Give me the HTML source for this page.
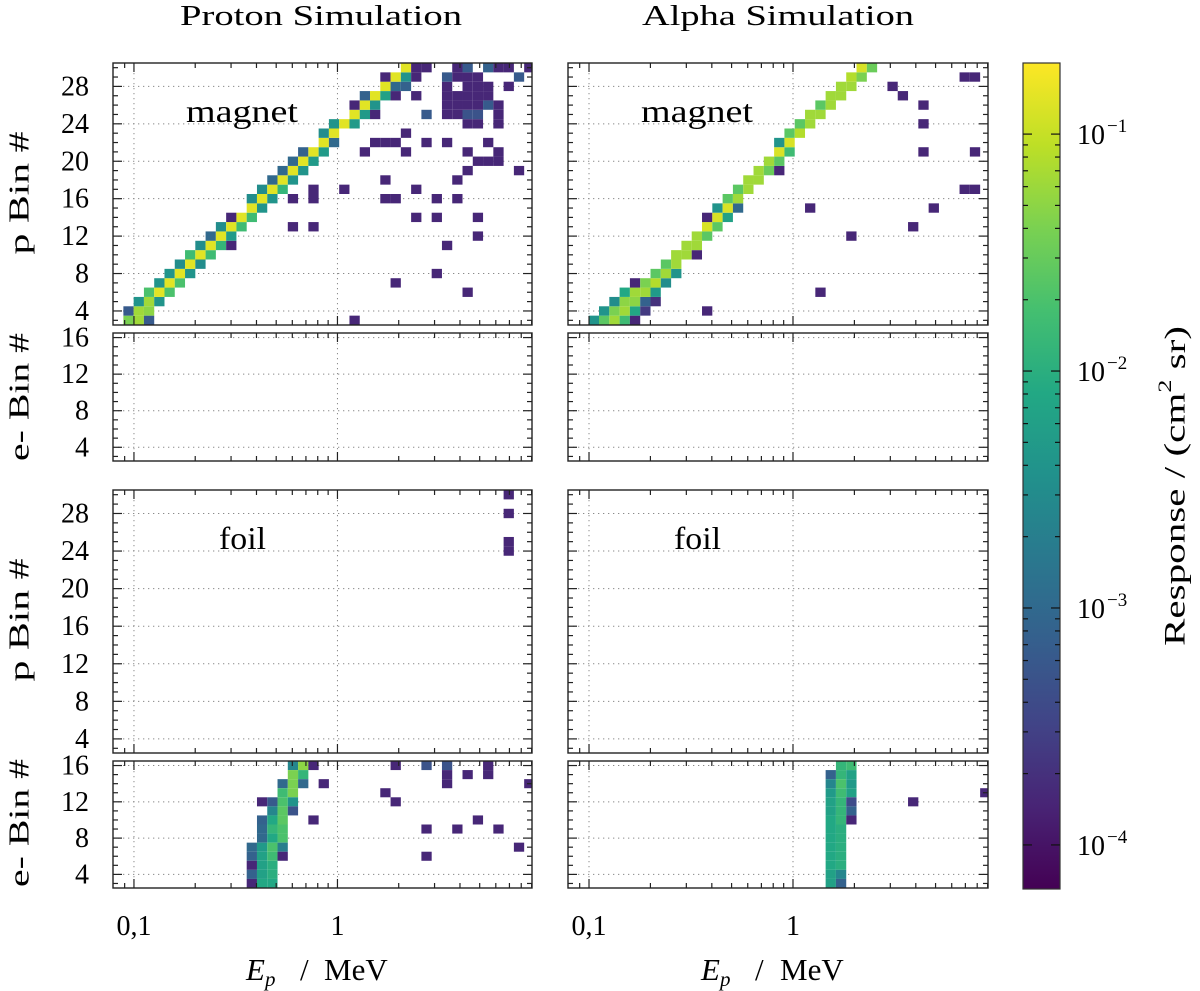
<!DOCTYPE html>
<html><head><meta charset="utf-8"><style>
html,body{margin:0;padding:0;background:#fff;}
svg{display:block;font-family:"Liberation Serif",serif;}
</style></head>
<body>
<svg id="fig" width="1200" height="991" viewBox="0 0 1200 991" xmlns="http://www.w3.org/2000/svg">
<defs>
<linearGradient id="viridis" x1="0" y1="1" x2="0" y2="0">
<stop offset="0" stop-color="#440154"/><stop offset="0.1" stop-color="#482475"/><stop offset="0.2" stop-color="#414487"/><stop offset="0.3" stop-color="#355f8d"/><stop offset="0.4" stop-color="#2a788e"/><stop offset="0.5" stop-color="#21918c"/><stop offset="0.6" stop-color="#22a884"/><stop offset="0.7" stop-color="#44bf70"/><stop offset="0.8" stop-color="#7ad151"/><stop offset="0.9" stop-color="#bddf26"/><stop offset="1" stop-color="#fde725"/>
</linearGradient>
</defs>
<text x="321" y="25" font-size="28" text-anchor="middle" textLength="282" lengthAdjust="spacingAndGlyphs">Proton Simulation</text>
<text x="778" y="25" font-size="28" text-anchor="middle" textLength="272" lengthAdjust="spacingAndGlyphs">Alpha Simulation</text>
<text transform="translate(20,193) rotate(-90)" font-size="28" text-anchor="middle" dominant-baseline="central" textLength="123" lengthAdjust="spacingAndGlyphs">p Bin #</text>
<text transform="translate(20,397) rotate(-90)" font-size="28" text-anchor="middle" dominant-baseline="central" textLength="128" lengthAdjust="spacingAndGlyphs">e- Bin #</text>
<text transform="translate(20,620) rotate(-90)" font-size="28" text-anchor="middle" dominant-baseline="central" textLength="123" lengthAdjust="spacingAndGlyphs">p Bin #</text>
<text transform="translate(20,823) rotate(-90)" font-size="28" text-anchor="middle" dominant-baseline="central" textLength="128" lengthAdjust="spacingAndGlyphs">e- Bin #</text>
<text y="980" font-size="31"><tspan x="246" font-style="italic">E</tspan><tspan font-style="italic" font-size="21" dy="6">p</tspan><tspan x="300" dy="-6">/</tspan><tspan x="324">MeV</tspan></text>
<text y="980" font-size="31"><tspan x="701" font-style="italic">E</tspan><tspan font-style="italic" font-size="21" dy="6">p</tspan><tspan x="755" dy="-6">/</tspan><tspan x="780">MeV</tspan></text>
<text transform="translate(1175,486) rotate(-90)" font-size="30" text-anchor="middle" dominant-baseline="central" textLength="320" lengthAdjust="spacingAndGlyphs">Response / (cm<tspan font-size="19" dy="-10">2</tspan><tspan dy="10"> sr)</tspan></text>
<g id="layer"></g>
</svg>
<script>
// ---- data: [energyBin, detectorBin, log10(response)] ----
const protonMagnetP = [
[0,3,-1.4],[1,3,-1.2],[2,3,-3.2],[22,3,-3.8],
[0,4,-3.2],[1,4,-1.2],[2,4,-1.3],
[1,5,-2.4],[2,5,-1.2],[3,5,-2.4],
[2,6,-1.7],[3,6,-0.85],[4,6,-1.7],[33,6,-3.8],
[3,7,-2.4],[4,7,-0.85],[5,7,-1.7],[26,7,-3.8],
[4,8,-2.4],[5,8,-0.85],[6,8,-2.4],[30,8,-3.8],
[5,9,-2.5],[6,9,-0.85],[7,9,-2.5],
[6,10,-1.8],[7,10,-0.85],[8,10,-1.8],
[7,11,-2.5],[8,11,-0.85],[9,11,-1.9],[10,11,-3.8],[31,11,-3.8],
[8,12,-3.0],[9,12,-0.85],[10,12,-2.3],[34,12,-3.8],
[9,13,-2.5],[10,13,-0.85],[11,13,-1.8],[16,13,-3.8],[18,13,-3.8],
[10,14,-3.8],[11,14,-0.85],[12,14,-1.8],[28,14,-3.8],[30,14,-3.8],[34,14,-3.8],
[12,15,-0.85],[13,15,-2.4],
[12,16,-2.5],[13,16,-0.85],[14,16,-2.4],[16,16,-3.8],[18,16,-3.8],[25,16,-3.8],[26,16,-3.8],[30,16,-3.8],[32,16,-3.8],
[13,17,-2.5],[14,17,-0.85],[15,17,-1.9],[18,17,-3.8],[21,17,-3.8],[28,17,-3.8],
[14,18,-3.0],[15,18,-0.85],[16,18,-2.4],[25,18,-3.8],[32,18,-3.8],
[15,19,-3.0],[16,19,-0.85],[17,19,-2.4],[33,19,-3.8],[38,19,-3.8],
[16,20,-3.0],[17,20,-0.85],[18,20,-2.3],[34,20,-3.8],[35,20,-3.8],[36,20,-3.8],
[17,21,-3.1],[18,21,-0.85],[19,21,-2.3],[23,21,-3.8],[27,21,-3.8],[33,21,-3.8],[36,21,-3.8],
[19,22,-0.85],[20,22,-3.0],[24,22,-3.8],[25,22,-3.8],[26,22,-3.8],[29,22,-3.8],[31,22,-3.8],[35,22,-3.8],
[19,23,-2.5],[20,23,-0.85],[27,23,-3.8],
[20,24,-2.4],[21,24,-0.85],[22,24,-2.3],[33,24,-3.8],[34,24,-3.8],[36,24,-3.8],
[22,25,-0.85],[23,25,-2.3],[24,25,-3.8],[29,25,-3.2],[31,25,-3.8],[32,25,-3.8],[33,25,-3.3],[34,25,-3.3],[36,25,-3.8],
[22,26,-3.8],[23,26,-0.85],[24,26,-2.4],[31,26,-3.8],[32,26,-3.8],[33,26,-3.8],[34,26,-3.8],[35,26,-3.2],[36,26,-3.8],
[23,27,-3.1],[24,27,-0.85],[25,27,-2.2],[26,27,-3.8],[28,27,-3.8],[31,27,-3.8],[32,27,-3.8],[33,27,-3.8],[34,27,-3.8],[35,27,-3.8],
[25,28,-0.85],[26,28,-3.0],[27,28,-3.1],[31,28,-3.8],[33,28,-3.8],[34,28,-3.8],[35,28,-3.8],[37,28,-3.8],
[25,29,-3.8],[26,29,-0.85],[27,29,-2.4],[28,29,-3.8],[31,29,-3.2],[32,29,-3.8],[33,29,-3.8],[34,29,-3.8],[38,29,-3.2],
[27,30,-0.85],[28,30,-3.8],[29,30,-3.8],[32,30,-3.8],[33,30,-3.2],[35,30,-3.1],[36,30,-3.8],[37,30,-3.8],[39,30,-3.8]
];
const protonMagnetE = [];
const protonFoilP = [[37,30,-3.8],[37,28,-3.8],[37,25,-3.8],[37,24,-3.8]];
const protonFoilE = [
[16,16,-2.6],[17,16,-1.3],[18,16,-3.8],[26,16,-3.8],[29,16,-3.3],[31,16,-3.3],[35,16,-3.8],
[16,15,-1.4],[17,15,-1.9],[31,15,-3.8],[33,15,-3.8],[35,15,-3.8],
[15,14,-3.0],[16,14,-1.4],[17,14,-3.0],[19,14,-3.8],[31,14,-3.8],[39,14,-3.8],
[15,13,-1.8],[16,13,-1.4],[25,13,-3.8],
[13,12,-3.8],[14,12,-3.2],[15,12,-1.7],[16,12,-2.4],[26,12,-3.8],
[14,11,-2.6],[15,11,-1.6],[16,11,-3.3],
[13,10,-3.1],[14,10,-2.1],[15,10,-1.6],[18,10,-3.8],[34,10,-3.8],
[13,9,-3.0],[14,9,-1.9],[15,9,-1.7],[29,9,-3.8],[32,9,-3.8],[36,9,-3.8],
[13,8,-3.0],[14,8,-2.1],[15,8,-1.7],
[12,7,-3.0],[13,7,-2.3],[14,7,-1.7],[15,7,-2.7],[38,7,-3.8],
[12,6,-3.1],[13,6,-2.2],[14,6,-1.8],[15,6,-3.8],[29,6,-3.8],
[12,5,-3.8],[13,5,-2.2],[14,5,-2.0],
[12,4,-3.1],[13,4,-2.2],[14,4,-2.0],
[12,3,-3.8],[13,3,-2.1],[14,3,-2.1]
];
const alphaMagnetP = [
[1,3,-2.4],[2,3,-1.6],[3,3,-1.2],[4,3,-1.8],[5,3,-3.8],
[2,4,-2.4],[3,4,-1.4],[4,4,-1.2],[5,4,-2.1],[6,4,-3.6],[12,4,-3.8],
[3,5,-2.5],[4,5,-1.3],[5,5,-1.3],[6,5,-3.1],[7,5,-3.7],
[4,6,-2.1],[5,6,-1.2],[6,6,-1.2],[7,6,-2.3],[23,6,-3.8],
[5,7,-3.8],[6,7,-1.4],[7,7,-1.1],[8,7,-2.5],
[7,8,-1.6],[8,8,-1.2],[9,8,-2.4],
[8,9,-1.6],[9,9,-1.2],
[9,10,-1.2],[10,10,-1.2],[11,10,-3.8],
[10,11,-1.2],[11,11,-1.2],
[11,12,-1.2],[12,12,-1.6],[26,12,-3.8],
[12,13,-0.9],[13,13,-1.6],[32,13,-3.8],
[12,14,-3.8],[13,14,-0.9],[14,14,-2.2],
[13,15,-2.4],[14,15,-0.9],[15,15,-3.0],[22,15,-3.8],[34,15,-3.8],
[14,16,-1.6],[15,16,-1.2],
[15,17,-1.6],[16,17,-1.2],[37,17,-3.8],[38,17,-3.8],
[16,18,-1.2],[17,18,-1.2],
[17,19,-1.2],[18,19,-1.5],[19,19,-3.8],
[18,20,-1.2],[19,20,-1.6],
[19,21,-0.9],[20,21,-1.8],[33,21,-3.8],[38,21,-3.8],
[19,22,-2.4],[20,22,-0.9],
[20,23,-1.6],[21,23,-1.1],
[21,24,-1.6],[22,24,-1.2],[33,24,-3.8],
[22,25,-1.2],[23,25,-1.2],
[23,26,-1.6],[24,26,-1.2],[33,26,-3.8],
[24,27,-1.2],[25,27,-1.2],[31,27,-3.8],
[25,28,-1.2],[26,28,-1.2],[30,28,-3.8],
[26,29,-1.1],[27,29,-1.4],[37,29,-3.8],[38,29,-3.8],
[27,30,-0.9],[28,30,-1.5]
];
const alphaMagnetE = [];
const alphaFoilP = [];
const alphaFoilE = [
[24,15,-3.1],[24,14,-2.6],[24,13,-2.3],[24,12,-2.2],[24,11,-2.2],[24,10,-2.1],[24,9,-2.1],[24,8,-2.1],[24,7,-2.1],[24,6,-2.1],[24,5,-2.1],[24,4,-2.2],[24,3,-2.2],
[25,16,-1.9],[25,15,-1.9],[25,14,-1.7],[25,13,-1.8],[25,12,-1.9],[25,11,-1.9],[25,10,-1.9],[25,9,-2.0],[25,8,-2.0],[25,7,-2.0],[25,6,-2.0],[25,5,-2.0],[25,4,-2.6],[25,3,-3.1],
[26,16,-1.8],[26,15,-2.2],[26,14,-2.3],[26,13,-2.2],[26,12,-3.4],[26,11,-3.1],[26,10,-3.8],
[32,12,-3.8],[39,13,-3.8]
];
const xMajorTicks = [0.1, 1];
const xMinorTicks = [0.09,0.2,0.3,0.4,0.5,0.6,0.7,0.8,0.9,2,3,4,5,6,7,8,9];
const xTickLabels = ["0,1", "1"];
const cbarDecades = [-1, -2, -3, -4];
const cbarLabels = ["\u22121", "\u22122", "\u22123", "\u22124"];

// ---- binning / scales ----
const EBIN_LOG0 = -1.052, EBIN_STEP = 0.0505;
const X_LOG_MIN = -1.103, X_LOG_MAX = 0.956;
const C_MIN = -4.186, C_MAX = -0.70;
const VIR = [[68,1,84],[72,36,117],[65,68,135],[53,95,141],[42,120,142],[33,145,140],[34,168,132],[68,191,112],[122,209,81],[189,223,38],[253,231,37]];
function viridis(v){
  let t = (v - C_MIN) / (C_MAX - C_MIN);
  t = Math.max(0, Math.min(1, t)) * 10;
  const i = Math.min(9, Math.floor(t)), f = t - i;
  const a = VIR[i], b = VIR[i+1];
  return 'rgb(' + [0,1,2].map(j => Math.round(a[j] + (b[j]-a[j])*f)).join(',') + ')';
}
const NS = 'http://www.w3.org/2000/svg';
const layer = document.getElementById('layer');
function mk(tag, attrs, parent){
  const e = document.createElementNS(NS, tag);
  for (const k in attrs) e.setAttribute(k, attrs[k]);
  (parent || layer).appendChild(e);
  return e;
}
const panels = [
  {name:'proton-magnet-p', data:protonMagnetP, x0:113, x1:532, y0:63, y1:325, ymin:2.5, ymax:30.5, labels:true},
  {name:'proton-magnet-e', data:protonMagnetE, x0:113, x1:532, y0:333, y1:461, ymin:2.5, ymax:16.5, labels:true},
  {name:'proton-foil-p', data:protonFoilP, x0:113, x1:532, y0:490, y1:753, ymin:2.5, ymax:30.5, labels:true},
  {name:'proton-foil-e', data:protonFoilE, x0:113, x1:532, y0:761, y1:888, ymin:2.5, ymax:16.5, labels:true, xlabels:true},
  {name:'alpha-magnet-p', data:alphaMagnetP, x0:568, x1:988, y0:63, y1:325, ymin:2.5, ymax:30.5},
  {name:'alpha-magnet-e', data:alphaMagnetE, x0:568, x1:988, y0:333, y1:461, ymin:2.5, ymax:16.5},
  {name:'alpha-foil-p', data:alphaFoilP, x0:568, x1:988, y0:490, y1:753, ymin:2.5, ymax:30.5},
  {name:'alpha-foil-e', data:alphaFoilE, x0:568, x1:988, y0:761, y1:888, ymin:2.5, ymax:16.5, xlabels:true}
];
panels.forEach(p => {
  const xs = lg => p.x0 + (lg - X_LOG_MIN) / (X_LOG_MAX - X_LOG_MIN) * (p.x1 - p.x0);
  const ys = v => p.y1 - (v - p.ymin) / (p.ymax - p.ymin) * (p.y1 - p.y0);
  const g = mk('g', {});
  
  
  const majorsY = [];
  for (let v = 4; v <= p.ymax; v += 4) majorsY.push(v);
  majorsY.forEach(v => {
    const l = mk('line', {x1:p.x0, x2:p.x1, y1:ys(v), y2:ys(v), stroke:'#8a8a8a', 'stroke-width':1, 'stroke-dasharray':'1.3,3.7'}, g);
    
    
  });
  xMajorTicks.forEach(t => {
    const l = mk('line', {x1:xs(Math.log10(t)), x2:xs(Math.log10(t)), y1:p.y0, y2:p.y1, stroke:'#8a8a8a', 'stroke-width':1, 'stroke-dasharray':'1.3,3.7'}, g);
    
    
  });
  p.data.forEach(d => {
    const lo = EBIN_LOG0 + EBIN_STEP * d[0], hi = Math.min(X_LOG_MAX, lo + EBIN_STEP);
    const xa = Math.max(p.x0, xs(lo)), xb = xs(hi);
    const ya = Math.max(p.y0, ys(d[1] + 0.5)), yb = Math.min(p.y1, ys(d[1] - 0.5));
    const r = mk('rect', {x:xa, y:ya, width:Math.max(0, xb - xa), height:Math.max(0, yb - ya), fill:viridis(d[2])}, g);
    
    
  });
  const tk = mk('g', {stroke:'#222', 'stroke-width':1.2}, g);
  
  
  xMajorTicks.concat(xMinorTicks).forEach((t, i) => {
    const len = i < xMajorTicks.length ? 9 : 5;
    const x = xs(Math.log10(t));
    mk('line', {x1:x, x2:x, y1:p.y1, y2:p.y1 - len}, tk);
    mk('line', {x1:x, x2:x, y1:p.y0, y2:p.y0 + len}, tk);
  });
  for (let v = Math.ceil(p.ymin); v <= p.ymax; v++) {
    const len = v % 4 === 0 ? 9 : 5;
    mk('line', {x1:p.x0, x2:p.x0 + len, y1:ys(v), y2:ys(v)}, tk);
    mk('line', {x1:p.x1, x2:p.x1 - len, y1:ys(v), y2:ys(v)}, tk);
  }
  const fr = mk('rect', {x:p.x0, y:p.y0, width:p.x1 - p.x0, height:p.y1 - p.y0, fill:'none', stroke:'#222', 'stroke-width':1.4}, g);
  
  
  if (p.labels) {
    majorsY.forEach(v => {
      const t = mk('text', {x:89, y:ys(v) + 9, 'font-size':28, 'text-anchor':'end'}, g);
      t.textContent = String(v);
      
      
    });
  }
  if (p.xlabels) {
    xMajorTicks.forEach((v, i) => {
      const t = mk('text', {x:xs(Math.log10(v)), y:935, 'font-size':28, 'text-anchor':'middle'}, g);
      t.textContent = xTickLabels[i];
      
      
    });
  }
});
[['magnet', 186, 122, 112, 'magnet-annotation-left'], ['magnet', 641, 122, 112, 'magnet-annotation-right'],
 ['foil', 219, 549, 47, 'foil-annotation-left'], ['foil', 674, 549, 47, 'foil-annotation-right']].forEach(a => {
  const t = mk('text', {x:a[1], y:a[2], 'font-size':32, textLength:a[3], lengthAdjust:'spacingAndGlyphs'});
  t.textContent = a[0];
  
  
});
const CB = {x0:1023, x1:1060, y0:63, y1:889};
const cys = lg => CB.y1 - (lg - C_MIN) / (C_MAX - C_MIN) * (CB.y1 - CB.y0);
const cb = mk('g', {});


mk('rect', {x:CB.x0, y:CB.y0, width:CB.x1 - CB.x0, height:CB.y1 - CB.y0, fill:'url(#viridis)', stroke:'#333', 'stroke-width':1.2}, cb);
cbarDecades.forEach((d, i) => {
  for (let m = 1; m <= 9; m++) {
    const lg = d + Math.log10(m);
    if (lg < C_MIN || lg > C_MAX) continue;
    const len = m === 1 ? 9 : 5;
    const y = cys(lg);
    mk('line', {x1:CB.x0, x2:CB.x0 + len, y1:y, y2:y, stroke:'#111', 'stroke-width':1.2}, cb);
    mk('line', {x1:CB.x1, x2:CB.x1 - len, y1:y, y2:y, stroke:'#111', 'stroke-width':1.2}, cb);
  }
  const t = mk('text', {x:1077, y:cys(d) + 10, 'font-size':28}, cb);
  t.textContent = '10';
  const s = mk('tspan', {'font-size':19, dy:-12, dx:2}, t);
  s.textContent = cbarLabels[i];
  
  
});
</script>
</body></html>
